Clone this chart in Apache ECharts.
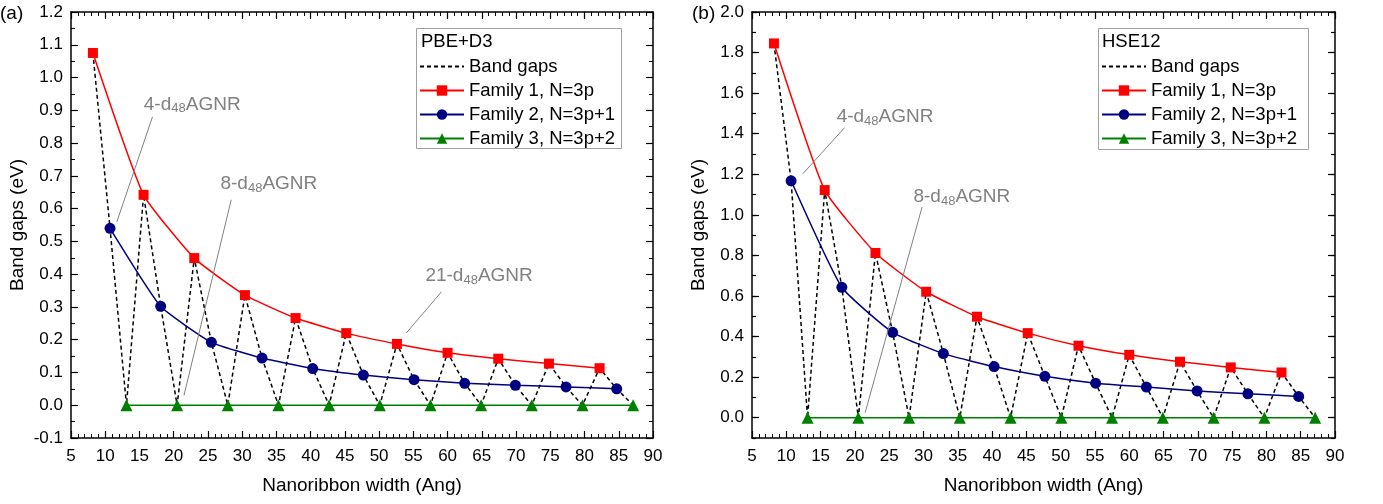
<!DOCTYPE html>
<html>
<head>
<meta charset="utf-8">
<script src="https://cdn.jsdelivr.net/npm/echarts@6/dist/echarts.min.js"></script>
<style>
html, body { margin: 0; padding: 0; background: #fff; }
#wrap { position: relative; width: 1383px; height: 504px; }
#axes, #main { position: absolute; left: 0; top: 0; width: 1383px; height: 504px; }
</style>
</head>
<body>
<div id="wrap">
  <div id="axes"></div>
  <div id="main"></div>
</div>
<script>
// nanoribbon widths (Ang) for each family
var widthF1 = [8.2, 15.6, 23.0, 30.4, 37.8, 45.2, 52.6, 60.0, 67.4, 74.8, 82.2];
var widthF2 = [10.7, 18.1, 25.5, 32.9, 40.3, 47.7, 55.1, 62.5, 69.9, 77.3, 84.7];
var widthF3 = [13.1, 20.5, 27.9, 35.3, 42.7, 50.1, 57.5, 64.9, 72.3, 79.7, 87.1];

// (a) PBE+D3 band gaps (eV)
var pbeF1 = [1.075, 0.642, 0.449, 0.336, 0.266, 0.220, 0.187, 0.160, 0.142, 0.127, 0.113];
var pbeF2 = [0.540, 0.302, 0.192, 0.144, 0.112, 0.092, 0.078, 0.067, 0.061, 0.056, 0.050];
var pbeF3 = [0, 0, 0, 0, 0, 0, 0, 0, 0, 0, 0];

// (b) HSE12 band gaps (eV)
var hseF1 = [1.845, 1.122, 0.812, 0.621, 0.498, 0.417, 0.355, 0.310, 0.276, 0.248, 0.223];
var hseF2 = [1.168, 0.643, 0.421, 0.316, 0.252, 0.204, 0.170, 0.151, 0.132, 0.118, 0.105];
var hseF3 = [0, 0, 0, 0, 0, 0, 0, 0, 0, 0, 0];

var names = ['Band gaps', 'Family 1, N=3p', 'Family 2, N=3p+1', 'Family 3, N=3p+2'];

// annotation text + arrow (data coords)
var notesA = [
    {text: '{n|4-d}{s|48}{n|AGNR}', at: [22.7, 0.918], from: [16.9, 0.880], to: [11.7, 0.560]},
    {text: '{n|8-d}{s|48}{n|AGNR}', at: [33.9, 0.675], from: [28.4, 0.627], to: [21.5, 0.030]},
    {text: '{n|21-d}{s|48}{n|AGNR}', at: [64.6, 0.395], from: [59.1, 0.346], to: [54.0, 0.221]}
];
var notesB = [
    {text: '{n|4-d}{s|48}{n|AGNR}', at: [24.4, 1.484], from: [18.5, 1.430], to: [12.4, 1.202]},
    {text: '{n|8-d}{s|48}{n|AGNR}', at: [35.6, 1.090], from: [29.8, 1.039], to: [21.5, 0.025]}
];

var FONT = 'Liberation Sans, Arial, sans-serif';
var GRAY = '#808080';

var gridA = {left: 71, right: 730, top: 12, bottom: 66};
var gridB = {left: 752, right: 48, top: 12, bottom: 66};
// overlay for the long HSE12 ticks: bottom edge sits on y = 0 of panel (b)
var gridBMajor = {left: 752, right: 48, top: 12, bottom: 504 - (438 - 426 * 0.1 / 2.1)};

function pairs(xs, ys) {
    return xs.map(function (x, i) { return [x, ys[i]]; });
}

// all points ordered by width -> the zigzag dashed line
function zigzag(f1, f2, f3) {
    var all = pairs(widthF1, f1).concat(pairs(widthF2, f2), pairs(widthF3, f3));
    return all.sort(function (a, b) { return a[0] - b[0]; });
}

// ---------- layer 1: frame, ticks, labels, axis titles ----------
function ax(extra, tickLen, minorSplit) {
    var o = {
        type: 'value',
        axisLine: {show: true, onZero: false, lineStyle: {color: '#000', width: 1.5}},
        axisTick: {show: true, inside: true, length: tickLen, lineStyle: {color: '#000', width: 1.2}},
        splitLine: {show: false},
        axisLabel: {show: false}
    };
    if (minorSplit) o.minorTick = {show: true, splitNumber: minorSplit, length: 4, lineStyle: {color: '#000', width: 1}};
    return Object.assign(o, extra);
}

function xPair(gi) {
    var range = {gridIndex: gi, min: 5, max: 90, interval: 5};
    return [
        ax(Object.assign({position: 'bottom',
            name: 'Nanoribbon width (Ang)', nameLocation: 'middle', nameGap: 38,
            nameTextStyle: {fontSize: 19, color: '#000', fontFamily: FONT},
            axisLabel: {show: true, fontSize: 17, color: '#000', fontFamily: FONT, margin: 10}}, range), 7, 5),
        ax(Object.assign({position: 'top'}, range), 7, 5)
    ];
}

var axesChart = echarts.init(document.getElementById('axes'));
axesChart.setOption({
    animation: false,
    grid: [gridA, gridB, gridBMajor],
    xAxis: xPair(0).concat(xPair(1), [{type: 'value', gridIndex: 2, min: 5, max: 90, show: false}]),
    yAxis: [
        ax({gridIndex: 0, min: -0.1, max: 1.2, interval: 0.1, position: 'left',
            name: 'Band gaps (eV)', nameLocation: 'middle', nameGap: 44,
            nameTextStyle: {fontSize: 19, color: '#000', fontFamily: FONT},
            axisLabel: {show: true, fontSize: 17, color: '#000', fontFamily: FONT, margin: 8,
                formatter: function (v) { return v.toFixed(1); }}}, 7, 2),
        ax({gridIndex: 0, min: -0.1, max: 1.2, interval: 0.1, position: 'right'}, 7, 2),
        ax({gridIndex: 1, min: -0.1, max: 2.0, interval: 0.1, position: 'left',
            name: 'Band gaps (eV)', nameLocation: 'middle', nameGap: 44,
            nameTextStyle: {fontSize: 19, color: '#000', fontFamily: FONT},
            axisLabel: {show: true, fontSize: 17, color: '#000', fontFamily: FONT, margin: 8,
                formatter: function (v) { return Math.round(v * 10) % 2 === 0 ? v.toFixed(1) : ''; }}}, 4, 0),
        ax({gridIndex: 1, min: -0.1, max: 2.0, interval: 0.1, position: 'right'}, 4, 0),
        ax({gridIndex: 2, min: 0, max: 2.0, interval: 0.2, position: 'left', axisLine: {show: false}}, 7, 0),
        ax({gridIndex: 2, min: 0, max: 2.0, interval: 0.2, position: 'right', axisLine: {show: false}}, 7, 0)
    ],
    series: [
        {type: 'line', xAxisIndex: 0, yAxisIndex: 0, data: []},
        {type: 'line', xAxisIndex: 2, yAxisIndex: 2, data: []}
    ]
});

// ---------- layer 2: data, legend, annotations ----------
function panelSeries(idx, f1, f2, f3, notes) {
    var common = {xAxisIndex: idx, yAxisIndex: idx, type: 'line'};
    return [
        Object.assign({}, common, {
            name: names[0], data: zigzag(f1, f2, f3), symbol: 'none', z: 2,
            lineStyle: {color: '#000', width: 1.5, type: [4, 3]}, itemStyle: {color: 'rgba(0,0,0,0)'}
        }),
        Object.assign({}, common, {
            name: names[1], data: pairs(widthF1, f1), symbol: 'rect', symbolSize: 10, smooth: 0.15, z: 4,
            lineStyle: {color: '#ff0000', width: 1.5}, itemStyle: {color: '#ff0000'}
        }),
        Object.assign({}, common, {
            name: names[2], data: pairs(widthF2, f2), symbol: 'circle', symbolSize: 11, smooth: 0.15, z: 4,
            lineStyle: {color: '#000080', width: 1.5}, itemStyle: {color: '#000080'}
        }),
        Object.assign({}, common, {
            name: names[3], data: pairs(widthF3, f3), symbol: 'triangle', symbolSize: 12, z: 4,
            lineStyle: {color: '#008000', width: 1.5}, itemStyle: {color: '#008000'}
        }),
        Object.assign({}, common, {
            name: 'notes', data: [], silent: true, z: 5,
            markLine: {
                silent: true, symbol: ['none', 'arrow'], symbolSize: [0, 10],
                lineStyle: {color: GRAY, width: 1, type: 'solid'},
                label: {show: false},
                data: notes.map(function (n) { return [{coord: n.from}, {coord: n.to}]; })
            },
            markPoint: {
                silent: true, symbol: 'circle', symbolSize: 1, itemStyle: {color: 'rgba(0,0,0,0)'},
                label: {
                    show: true, position: 'inside',
                    formatter: function (p) { return p.data.text; },
                    rich: {
                        n: {fontSize: 19, color: GRAY, fontFamily: FONT},
                        s: {fontSize: 13, color: GRAY, fontFamily: FONT, padding: [9, 0, 0, 0]}
                    }
                },
                data: notes.map(function (n) { return {coord: n.at, text: n.text}; })
            }
        })
    ];
}

var legendBase = {
    data: names, orient: 'vertical', padding: 0, top: 57,
    itemWidth: 44, itemHeight: 13, itemGap: 5, selectedMode: false,
    textStyle: {fontSize: 18.5, color: '#000', fontFamily: FONT, lineHeight: 18}
};

var myChart = echarts.init(document.getElementById('main'));
myChart.setOption({
    animation: false,
    backgroundColor: 'transparent',
    grid: [gridA, gridB],
    xAxis: [
        {type: 'value', gridIndex: 0, min: 5, max: 90, show: false},
        {type: 'value', gridIndex: 1, min: 5, max: 90, show: false}
    ],
    yAxis: [
        {type: 'value', gridIndex: 0, min: -0.1, max: 1.2, show: false},
        {type: 'value', gridIndex: 1, min: -0.1, max: 2.0, show: false}
    ],
    legend: [
        Object.assign({}, legendBase, {left: 419}),
        Object.assign({}, legendBase, {left: 1101})
    ],
    series: panelSeries(0, pbeF1, pbeF2, pbeF3, notesA)
        .concat(panelSeries(1, hseF1, hseF2, hseF3, notesB)),
    graphic: [
        {type: 'rect', shape: {x: 416.5, y: 28.5, width: 205, height: 120}, z: 0,
            style: {fill: '#fff', stroke: '#a0a0a0', lineWidth: 1}},
        {type: 'text', x: 421, y: 42, style: {text: 'PBE+D3', fontSize: 18.5, fontFamily: FONT,
            fill: '#000', verticalAlign: 'middle'}},
        {type: 'rect', shape: {x: 1098.5, y: 28.5, width: 210, height: 121}, z: 0,
            style: {fill: '#fff', stroke: '#a0a0a0', lineWidth: 1}},
        {type: 'text', x: 1102, y: 42, style: {text: 'HSE12', fontSize: 18.5, fontFamily: FONT,
            fill: '#000', verticalAlign: 'middle'}},
        {type: 'text', x: 0, y: 14, style: {text: '(a)', fontSize: 19, fontFamily: FONT,
            fill: '#000', verticalAlign: 'middle'}},
        {type: 'text', x: 692, y: 14, style: {text: '(b)', fontSize: 19, fontFamily: FONT,
            fill: '#000', verticalAlign: 'middle'}}
    ]
});
</script>
</body>
</html>
